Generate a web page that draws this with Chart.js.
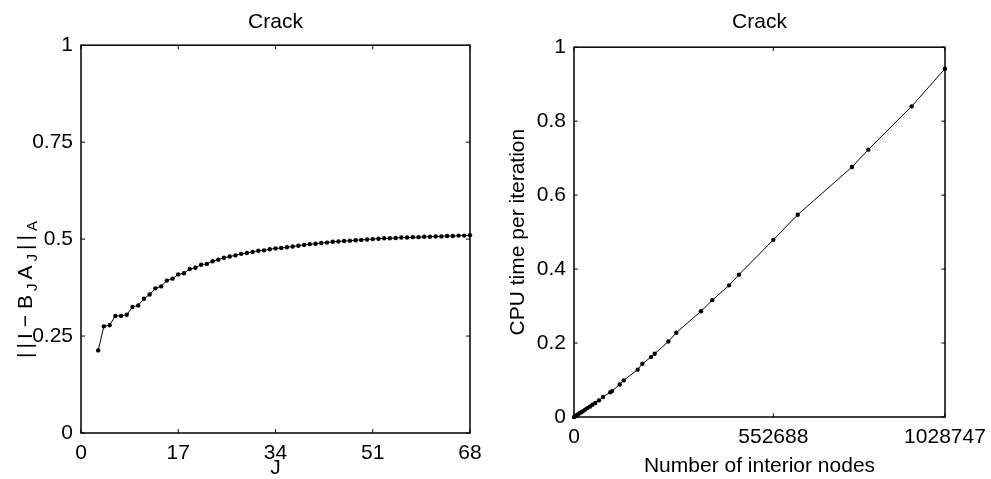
<!DOCTYPE html>
<html><head><meta charset="utf-8">
<script src="https://cdn.jsdelivr.net/npm/chart.js@4.4.1/dist/chart.umd.min.js"></script>
<style>
html,body{margin:0;padding:0;background:#fff;}
#wrap{position:relative;width:991px;height:479px;overflow:hidden;background:#fff}
canvas{position:absolute;top:0}
#c1{left:0}
#c2{left:495px}
</style></head><body>
<div id="wrap"><canvas id="c1" width="495" height="479"></canvas><canvas id="c2" width="496" height="479"></canvas></div>
<script>
// ---- Left panel data ----
const J = [3,4,5,6,7,8,9,10,11,12,13,14,15,16,17,18,19,20,21,22,23,24,25,26,27,28,29,30,31,32,33,34,35,36,37,38,39,40,41,42,43,44,45,46,47,48,49,50,51,52,53,54,55,56,57,58,59,60,61,62,63,64,65,66,67,68];
const normValues = [0.213,0.275,0.278,0.302,0.302,0.305,0.325,0.329,0.346,0.357,0.373,0.378,0.393,0.398,0.409,0.412,0.423,0.426,0.434,0.436,0.443,0.447,0.452,0.455,0.458,0.462,0.464,0.467,0.470,0.471,0.474,0.476,0.477,0.479,0.481,0.483,0.485,0.487,0.488,0.490,0.491,0.493,0.494,0.495,0.496,0.497,0.498,0.499,0.500,0.501,0.502,0.502,0.503,0.504,0.504,0.505,0.505,0.506,0.506,0.507,0.507,0.508,0.508,0.509,0.509,0.510];
// ---- Right panel data ----
const nodes = [0,2000,4500,7500,11000,15000,20000,25000,31000,37000,44000,51000,59000,69300,80400,100700,105400,126600,137700,176500,189500,213500,223700,261600,283800,352200,383600,429800,457500,552688,620300,770900,816100,936400,1028747];
const cpuTime = [0.000,0.001,0.003,0.005,0.007,0.010,0.013,0.016,0.020,0.024,0.028,0.033,0.038,0.045,0.054,0.067,0.070,0.088,0.099,0.128,0.144,0.162,0.171,0.204,0.228,0.286,0.316,0.356,0.385,0.479,0.547,0.676,0.723,0.840,0.942];
// ---- Ticks ----
const leftXTicks = [0,17,34,51,68];
const leftXLabels = ['0','17','34','51','68'];
const leftYTicks = [0,0.25,0.5,0.75,1];
const leftYLabels = ['0','0.25','0.5','0.75','1'];
const rightXTicks = [0,552688,1028747];
const rightXLabels = ['0','552688','1028747'];
const rightYTicks = [0,0.2,0.4,0.6,0.8,1];
const rightYLabels = ['0','0.2','0.4','0.6','0.8','1'];
const titleText = 'Crack';
const leftXTitle = 'J';
const rightXTitle = 'Number of interior nodes';
const rightYTitle = 'CPU time per iteration';

const FONT = "'Liberation Sans', Arial, Helvetica, sans-serif";
const FS = 21;
Chart.defaults.font.family = FONT;
Chart.defaults.color = '#000';

function scaleCfg(axis, min, max, ticks, labels, size, title, titlePad){
  return {
    type:'linear', min:min, max:max,
    afterBuildTicks: s => { s.ticks = ticks.map(v => ({value:v})); },
    afterFit: s => {
      if (axis === 'x') s.height = size; else s.width = size;
      s.paddingLeft = 0; s.paddingRight = 0; s.paddingTop = 0; s.paddingBottom = 0;
    },
    grid:{display:false, drawTicks:false},
    border:{display:false},
    ticks:{padding:8, maxRotation:0, minRotation:0, autoSkip:false, color:'#000',
      font:{size:FS, family:FONT},
      callback:(v) => { const i = ticks.indexOf(v); return i >= 0 ? labels[i] : ''; }},
    title: title ? {display:true, text:title, color:'#000', font:{size:FS, family:FONT},
      padding:titlePad} : {display:false}
  };
}

const boxPlugin = {
  id:'matlabBox',
  beforeDatasetsDraw(chart, args, opts){
    const {ctx, chartArea:a} = chart;
    const x = chart.scales.x, y = chart.scales.y;
    const L = opts.tickLen || 4;
    ctx.save();
    ctx.strokeStyle = '#000';
    ctx.lineWidth = 1;
    ctx.beginPath();
    x.ticks.forEach(t => {
      const px = x.getPixelForValue(t.value);
      ctx.moveTo(px, a.bottom); ctx.lineTo(px, a.bottom - L);
      ctx.moveTo(px, a.top); ctx.lineTo(px, a.top + L);
    });
    y.ticks.forEach(t => {
      const py = y.getPixelForValue(t.value);
      ctx.moveTo(a.left, py); ctx.lineTo(a.left + L, py);
      ctx.moveTo(a.right, py); ctx.lineTo(a.right - L, py);
    });
    ctx.stroke();
    ctx.lineWidth = 1.5;
    ctx.strokeRect(a.left, a.top, a.right - a.left, a.bottom - a.top);
    ctx.restore();
  }
};

// y-axis label of the left panel: ||I-B_J A_J||_A (with subscripts)
const leftLabelSegs = [['||I',FS,0,2],['\u2212',FS,0,2],['B',FS,0,0],['J',15,5,0],['A',FS,0,0],['J',15,5,0],['||',FS,0,0],['A',15,5,0]];
const leftLabelPlugin = {
  id:'leftLabel',
  afterDraw(chart){
    const ctx = chart.ctx;
    ctx.save();
    ctx.translate(32, 358);
    ctx.rotate(-Math.PI/2);
    ctx.fillStyle = '#000';
    ctx.textBaseline = 'alphabetic';
    ctx.textAlign = 'left';
    if ('letterSpacing' in ctx) ctx.letterSpacing = '4px';
    let xx = 0;
    for (const [t, sz, dy, gap] of leftLabelSegs){
      ctx.font = sz + 'px ' + FONT;
      ctx.fillText(t, xx, dy);
      xx += ctx.measureText(t).width + gap;
    }
    ctx.restore();
  }
};

function lineDataset(points){
  return {
    data: points, borderColor:'#000', borderWidth:1, backgroundColor:'#000',
    pointRadius:2.2, pointBackgroundColor:'#000', pointBorderWidth:0,
    pointHoverRadius:2.2, tension:0, clip:false, fill:false
  };
}

new Chart(document.getElementById('c1'), {
  type:'line',
  data:{ datasets:[ lineDataset(J.map((j,i) => ({x:j, y:normValues[i]}))) ] },
  options:{
    responsive:false, animation:false, devicePixelRatio:1,
    layout:{padding:{left:0, right:25, top:0, bottom:0}},
    plugins:{
      legend:{display:false}, tooltip:{enabled:false},
      title:{display:true, fullSize:false, text:titleText, color:'#000', font:{size:FS, family:FONT, weight:'normal'}, padding:{top:10, bottom:10}},
      matlabBox:{tickLen:4}
    },
    scales:{
      x: scaleCfg('x', 0, 68, leftXTicks, leftXLabels, 46, leftXTitle, {top:0, bottom:-2}),
      y: scaleCfg('y', 0, 1, leftYTicks, leftYLabels, 81, null, null)
    }
  },
  plugins:[boxPlugin, leftLabelPlugin]
});

new Chart(document.getElementById('c2'), {
  type:'line',
  data:{ datasets:[ lineDataset(nodes.map((n,i) => ({x:n, y:cpuTime[i]}))) ] },
  options:{
    responsive:false, animation:false, devicePixelRatio:1,
    layout:{padding:{left:0, right:46, top:0, bottom:0}},
    plugins:{
      legend:{display:false}, tooltip:{enabled:false},
      title:{display:true, fullSize:false, text:titleText, color:'#000', font:{size:FS, family:FONT, weight:'normal'}, padding:{top:10, bottom:12}},
      matlabBox:{tickLen:3.7}
    },
    scales:{
      x: scaleCfg('x', 0, 1028747, rightXTicks, rightXLabels, 62, rightXTitle, {top:0, bottom:0}),
      y: scaleCfg('y', 0, 1, rightYTicks, rightYLabels, 79, rightYTitle, {top:11, bottom:0})
    }
  },
  plugins:[boxPlugin]
});
</script>
</body></html>
